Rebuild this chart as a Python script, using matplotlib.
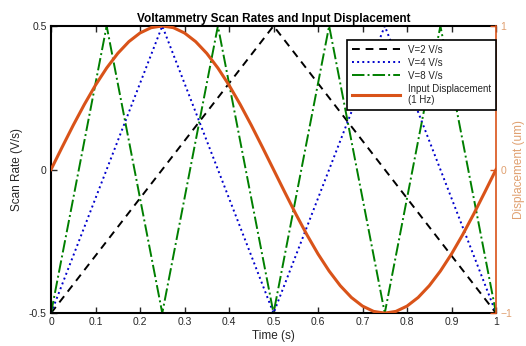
import numpy as np
import matplotlib
matplotlib.use("Agg")
import matplotlib.pyplot as plt

plt.rcParams["font.family"] = ["Liberation Sans", "DejaVu Sans"]

# triangle waves: vertices (time [s], scan rate [V/s])
t_v2 = [0, 0.5, 1]
v_v2 = [-0.5, 0.5, -0.5]
t_v4 = [0, 0.25, 0.5, 0.75, 1]
v_v4 = [-0.5, 0.5, -0.5, 0.5, -0.5]
t_v8 = [0, 0.125, 0.25, 0.375, 0.5, 0.625, 0.75, 0.875, 1]
v_v8 = [-0.5, 0.5, -0.5, 0.5, -0.5, 0.5, -0.5, 0.5, -0.5]

t_disp = [round(0.025 * i, 3) for i in range(41)]
disp = [0, 0.156, 0.309, 0.454, 0.588, 0.707, 0.809, 0.891, 0.951, 0.988,
        1, 0.988, 0.951, 0.891, 0.809, 0.707, 0.588, 0.454, 0.309, 0.156,
        0, -0.156, -0.309, -0.454, -0.588, -0.707, -0.809, -0.891, -0.951, -0.988,
        -1, -0.988, -0.951, -0.891, -0.809, -0.707, -0.588, -0.454, -0.309, -0.156, 0]

x_ticks = [0, 0.1, 0.2, 0.3, 0.4, 0.5, 0.6, 0.7, 0.8, 0.9, 1]
y_ticks = [-0.5, 0, 0.5]
y2_ticks = [-1, 0, 1]

orange = "#D95319"
pale = "#E0A070"
grey = "#262626"

fig = plt.figure(figsize=(5.26, 3.46), dpi=100)
ax = fig.add_axes([0.097, 0.095, 0.846, 0.83])
ax2 = ax.twinx()

l2, = ax.plot(t_v2, v_v2, "k--", lw=1.4, dashes=(4, 3), label="V=2 V/s")
l4, = ax.plot(t_v4, v_v4, ":", color="#0000CC", lw=1.4, label="V=4 V/s")
l8, = ax.plot(t_v8, v_v8, "-.", color="#007F00", lw=1.4, label="V=8 V/s")
ld, = ax2.plot(t_disp, disp, color=orange, lw=2.2, label="Input Displacement\n(1 Hz)")

ax.set_xlim(0, 1)
ax.set_ylim(-0.5, 0.5)
ax2.set_ylim(-1, 1)
ax.set_xticks(x_ticks)
ax.set_xticklabels([f"{x:g}" for x in x_ticks])
ax.set_yticks(y_ticks)
ax.set_yticklabels(["-0.5", "0", "0.5"])
ax2.set_yticks(y2_ticks)

ax.tick_params(direction="in", length=4, width=1, labelsize=7.5, colors=grey, pad=3)
ax.tick_params(axis="x", top=True)
ax2.tick_params(direction="in", length=4, width=1, labelsize=7.5, colors=orange,
                labelcolor=pale, pad=3)

for s in ["left", "bottom", "top"]:
    ax.spines[s].set_linewidth(1.5)
    ax.spines[s].set_color("black")
    ax2.spines[s].set_visible(False)
ax2.spines["right"].set_color(orange)
ax2.spines["right"].set_linewidth(1.2)
ax.spines["right"].set_visible(False)

ax.set_xlabel("Time (s)", fontsize=8.5, color=grey, labelpad=2)
ax.set_ylabel("Scan Rate (V/s)", fontsize=8.5, color=grey, labelpad=4)
ax2.set_ylabel("Displacement (um)", fontsize=8.5, color=pale, labelpad=1)
ax.set_title("Voltammetry Scan Rates and Input Displacement", fontsize=8.5,
             fontweight="bold", pad=3)

leg = ax2.legend(handles=[l2, l4, l8, ld], loc="upper right",
                 bbox_to_anchor=(1.0, 0.951), fontsize=7, handlelength=5,
                 fancybox=False, framealpha=1, edgecolor="black",
                 borderaxespad=0, labelspacing=0.3, borderpad=0.5)
leg.get_frame().set_linewidth(1.2)
for t in leg.get_texts():
    t.set_color(grey)

fig.savefig("out.png", dpi=100)
